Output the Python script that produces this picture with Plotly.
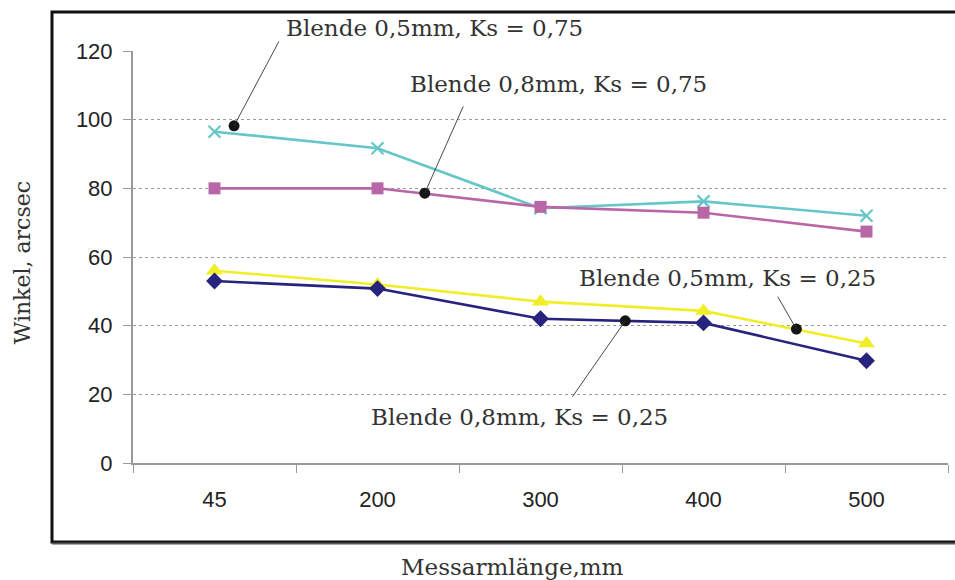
import plotly.graph_objects as go

# Messarmlänge categories
categories = ["45", "200", "300", "400", "500"]

# Winkel (arcsec) per Blende / Ks combination
s_05_075 = [96.5, 91.7, 74.2, 76.2, 72.0]   # Blende 0,5mm, Ks = 0,75
s_08_075 = [80.0, 80.0, 74.6, 72.9, 67.4]   # Blende 0,8mm, Ks = 0,75
s_05_025 = [56.0, 52.0, 47.0, 44.3, 34.8]   # Blende 0,5mm, Ks = 0,25
s_08_025 = [53.0, 50.8, 42.0, 40.8, 29.8]   # Blende 0,8mm, Ks = 0,25

# Callout points (category-index x, value y) and their labels
callout_x = [0.12, 1.29, 2.52, 3.57]
callout_y = [98.2, 78.6, 41.4, 39.0]
callout_text = ["Blende 0,5mm, Ks = 0,75", "Blende 0,8mm, Ks = 0,75",
                "Blende 0,8mm, Ks = 0,25", "Blende 0,5mm, Ks = 0,25"]
label_x = [1.35, 2.11, 1.87, 3.15]
label_y = [126.6, 110.3, 13.3, 53.8]
leader_end_x = [0.40, 1.53, 2.19, 3.45]
leader_end_y = [123.2, 104.3, 18.9, 48.9]

Y_MAX = 120
SERIF = "DejaVu Serif"
SANS = "Liberation Sans"
TEXT_COL = "#333333"

fig = go.Figure()

series = [
    (s_05_075, "#66C6C8", dict(symbol="x-thin", size=12, line=dict(width=2.2, color="#66C6C8"))),
    (s_08_075, "#B966A6", dict(symbol="square", size=12)),
    (s_05_025, "#F0EE28", dict(symbol="triangle-up", size=15)),
    (s_08_025, "#28237F", dict(symbol="diamond", size=13)),
]
for vals, col, mk in series:
    fig.add_trace(go.Scatter(
        x=categories, y=vals, mode="lines+markers",
        line=dict(color=col, width=2.6),
        marker=dict(color=col, **mk),
        showlegend=False, cliponaxis=False,
    ))

# black callout dots on a hidden linear overlay axis
fig.add_trace(go.Scatter(
    x=callout_x, y=callout_y, xaxis="x2", mode="markers",
    marker=dict(color="#151515", size=11), showlegend=False, cliponaxis=False,
))

annotations = []
for cx, cy, ex, ey in zip(callout_x, callout_y, leader_end_x, leader_end_y):
    annotations.append(dict(
        x=cx, y=cy, xref="x2", yref="y", ax=ex, ay=ey, axref="x2", ayref="y",
        text="", showarrow=True, arrowhead=0, arrowwidth=0.9, arrowcolor="#333333",
    ))
# labels positioned in paper units on y so the top one may sit above the axis range
for tx, ty, t in zip(label_x, label_y, callout_text):
    annotations.append(dict(
        x=tx, y=ty / Y_MAX, xref="x2", yref="paper", text=t, showarrow=False,
        xanchor="center", yanchor="middle",
        font=dict(family=SERIF, size=23, color=TEXT_COL),
    ))

# axis titles
annotations.append(dict(
    x=-0.136, y=0.485, xref="paper", yref="paper", text="Winkel, arcsec",
    textangle=-90, showarrow=False, xanchor="center", yanchor="middle",
    font=dict(family=SERIF, size=22, color=TEXT_COL),
))
annotations.append(dict(
    x=0.466, y=-0.2524, xref="paper", yref="paper", text="Messarmlänge,mm",
    showarrow=False, xanchor="center", yanchor="middle",
    font=dict(family=SERIF, size=23, color=TEXT_COL),
))

fig.update_layout(
    width=955, height=580,
    margin=dict(l=133, r=7, t=51, b=117),
    paper_bgcolor="white", plot_bgcolor="white",
    xaxis=dict(
        type="category", range=[-0.5, 4.5], tickson="boundaries",
        ticks="outside", ticklen=8, tickcolor="#999999",
        showline=True, linecolor="#999999", linewidth=2,
        showgrid=False, zeroline=False, ticklabelstandoff=16,
        tickfont=dict(family=SANS, size=22, color="#222222"),
    ),
    xaxis2=dict(overlaying="x", range=[-0.5, 4.5], visible=False),
    yaxis=dict(
        range=[0, Y_MAX], dtick=20, ticks="outside", ticklen=8, tickcolor="#999999",
        showline=True, linecolor="#999999", linewidth=2,
        showgrid=True, gridcolor="#9a9a9a", griddash="dot", gridwidth=1,
        zeroline=False, ticklabelstandoff=6,
        tickfont=dict(family=SANS, size=22, color="#222222"),
    ),
    annotations=annotations,
    shapes=[dict(
        type="rect", xref="paper", yref="paper",
        x0=-0.0994, x1=1.02, y0=-0.1917, y1=1.0947,
        line=dict(color="#111111", width=3), layer="below",
    ), dict(
        type="line", xref="paper", yref="paper",
        x0=-0.0994, x1=1.02, y0=-0.1955, y1=-0.1955,
        line=dict(color="#555555", width=2),
    )],
)

fig.write_html("out.html")
